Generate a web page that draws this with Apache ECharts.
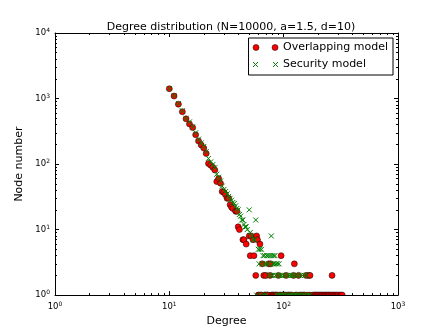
<!DOCTYPE html>
<html>
<head>
<meta charset="utf-8">
<script src="https://cdn.jsdelivr.net/npm/echarts@6/dist/echarts.min.js"></script>
<style>
  html, body { margin: 0; padding: 0; background: #fff; }
  #chart { width: 443px; height: 332px; }
</style>
</head>
<body>
<div id="chart"></div>
<script>
// overlapping model (red dots)
const overlapDeg = [
  10, 11, 12, 13, 14, 15, 16, 17, 18, 19, 20, 21, 22, 23, 24, 25, 26, 27, 28, 29,
  30, 31, 32, 33, 34, 35, 36, 38, 39, 40, 41, 44, 45, 47, 50, 52, 54, 58, 59, 62,
  51, 55, 95,
  65, 74, 77, 124,
  57, 67, 70, 76, 90, 105, 122, 135, 157, 165, 170, 265,
  60, 61, 63, 64, 68, 69, 71, 72, 73, 78, 80, 81, 83, 85, 86, 88, 92, 94, 97, 99,
  101, 103, 107, 110, 112, 115, 118, 127, 130, 138, 142, 146, 150, 153, 160, 168,
  180, 185, 189, 193, 197, 201, 206, 210, 214, 219, 224, 229, 233, 238, 243, 248,
  252, 259, 266, 272, 279, 286, 293, 300, 309, 317, 325
];
const overlapCnt = [
  1410, 1090, 820, 630, 490, 410, 360, 280, 225, 195, 175, 145, 102, 96, 89, 81, 54, 60, 51, 38,
  37, 34, 30, 30, 24, 22, 21, 19, 19, 11, 10, 7, 7, 6, 8, 8, 7, 8, 7, 6,
  4, 4, 4,
  3, 3, 3, 3,
  2, 2, 2, 2, 2, 2, 2, 2, 2, 2, 2, 2,
  1, 1, 1, 1, 1, 1, 1, 1, 1, 1, 1, 1, 1, 1, 1, 1, 1, 1, 1, 1,
  1, 1, 1, 1, 1, 1, 1, 1, 1, 1, 1, 1, 1, 1, 1, 1,
  1, 1, 1, 1, 1, 1, 1, 1, 1, 1, 1, 1, 1, 1, 1, 1,
  1, 1, 1, 1, 1, 1, 1, 1, 1, 1, 1
];

// security model (green crosses)
const securityDeg = [
  10, 11, 12, 13, 14, 15, 16, 17, 18, 19, 20, 21, 22, 23, 24, 25, 26, 27, 28, 29,
  30, 31, 32, 33, 34, 35, 36, 37, 38, 39, 40, 41, 42, 43, 44, 45, 46, 47, 48, 50,
  51, 53, 54, 56, 57, 60, 62, 64, 78,
  66, 68, 71, 73, 76, 79, 82, 84,
  61, 65, 69, 72, 75, 83, 81, 86, 88, 91,
  74, 77, 80, 85, 89, 93, 96, 100, 104, 108, 112, 116, 120, 125, 130, 135, 140, 146, 152, 160,
  58, 63, 67, 70, 87, 90, 92, 95, 98, 102, 106, 110, 114, 118, 123, 128, 133, 138, 144, 149,
  155, 163, 170
];
const securityCnt = [
  1420, 1110, 840, 650, 500, 440, 370, 300, 240, 210, 185, 155, 122, 108, 98, 88, 70, 63, 55, 46,
  41, 38, 35, 32, 30, 28, 26, 25, 23, 21, 20, 17, 16, 14, 14, 12, 11, 11, 10, 20,
  9, 8, 7, 7, 14, 5, 5, 5, 8,
  4, 4, 4, 4, 4, 4, 4, 4,
  3, 3, 3, 3, 3, 3, 3, 3, 3, 3,
  2, 2, 2, 2, 2, 2, 2, 2, 2, 2, 2, 2, 2, 2, 2, 2, 2, 2, 2, 2,
  1, 1, 1, 1, 1, 1, 1, 1, 1, 1, 1, 1, 1, 1, 1, 1, 1, 1, 1, 1,
  1, 1, 1
];

const xMinor = [2, 3, 4, 5, 6, 7, 8, 9, 20, 30, 40, 50, 60, 70, 80, 90, 200, 300, 400, 500, 600, 700, 800, 900];
const yMinor = xMinor.concat([2000, 3000, 4000, 5000, 6000, 7000, 8000, 9000]);

const font = 'DejaVu Sans';
const chart = echarts.init(document.getElementById('chart'));

// 10^n tick labels
const powLabel = {
  formatter: v => '{b|10}{s|' + Math.round(Math.log10(v)) + '}',
  rich: {
    b: { fontSize: 8.5, fontFamily: font, color: '#000', lineHeight: 11 },
    s: { fontSize: 6, fontFamily: font, color: '#000', verticalAlign: 'top', lineHeight: 6 }
  }
};

function logAxis(pos, min, max, major, minor, extra) {
  return Object.assign({
    type: 'log', logBase: 10, min: min, max: max, position: pos,
    axisLine: { show: major, onZero: false, lineStyle: { color: '#000', width: 1 } },
    axisTick: major
      ? { inside: true, length: 4, lineStyle: { color: '#000' } }
      : { inside: true, length: 2, customValues: minor, lineStyle: { color: '#000' } },
    axisLabel: { show: false },
    splitLine: { show: false },
    minorTick: { show: false }
  }, extra || {});
}

// markers drawn through the axes so the grid can clip them (half dots at y=1)
function dotItem(params, api) {
  const p = api.coord([api.value(0), api.value(1)]);
  return {
    type: 'circle',
    shape: { cx: p[0], cy: p[1], r: 3 },
    style: { fill: '#ff0000', stroke: '#000', lineWidth: 0.5 }
  };
}
function crossItem(params, api) {
  const p = api.coord([api.value(0), api.value(1)]);
  const h = 2.5;
  return {
    type: 'path',
    shape: {
      pathData: 'M' + (p[0] - h) + ',' + (p[1] - h) + 'L' + (p[0] + h) + ',' + (p[1] + h) +
        'M' + (p[0] - h) + ',' + (p[1] + h) + 'L' + (p[0] + h) + ',' + (p[1] - h)
    },
    style: { fill: null, stroke: '#008000', lineWidth: 1 }
  };
}

chart.setOption({
  animation: false,
  backgroundColor: '#fff',
  title: {
    text: 'Degree distribution (N=10000, a=1.5, d=10)',
    left: 226, top: 17, textAlign: 'center',
    textStyle: { fontSize: 11, fontWeight: 'normal', fontFamily: font, color: '#000' }
  },
  grid: { left: 55, right: 45, top: 33, bottom: 34 },
  legend: {
    orient: 'vertical', right: 50, top: 38,
    borderColor: '#000', borderWidth: 1, borderRadius: 0,
    padding: [4, 5, 5, 4], itemGap: 6, itemWidth: 25, itemHeight: 6,
    textStyle: { fontSize: 11, fontFamily: font, color: '#000' },
    data: [
      { name: 'Overlapping model',
        icon: 'path://M0,3a3,3 0 1,0 6,0a3,3 0 1,0 -6,0M19,3a3,3 0 1,0 6,0a3,3 0 1,0 -6,0',
        itemStyle: { color: '#ff0000', borderColor: '#000', borderWidth: 0.5 } },
      { name: 'Security model',
        icon: 'path://M0,0L5,5M0,5L5,0M20,0L25,5M20,5L25,0',
        itemStyle: { color: '#008000', borderColor: '#008000', borderWidth: 1 } }
    ]
  },
  xAxis: [
    logAxis('bottom', 1, 1000, true, null, {
      axisLabel: Object.assign({ margin: 6 }, powLabel),
      name: 'Degree', nameLocation: 'middle', nameGap: 15,
      nameTextStyle: { fontSize: 11, fontFamily: font, color: '#000' }
    }),
    logAxis('bottom', 1, 1000, false, xMinor),
    logAxis('top', 1, 1000, true, null),
    logAxis('top', 1, 1000, false, xMinor)
  ],
  yAxis: [
    logAxis('left', 1, 10000, true, null, {
      axisLabel: Object.assign({ margin: 5 }, powLabel),
      name: 'Node number', nameLocation: 'middle', nameGap: 20,
      nameTextStyle: { fontSize: 11, fontFamily: font, color: '#000' }
    }),
    logAxis('left', 1, 10000, false, yMinor),
    logAxis('right', 1, 10000, true, null),
    logAxis('right', 1, 10000, false, yMinor)
  ],
  series: [
    {
      name: 'Overlapping model', type: 'custom', clip: true,
      itemStyle: { color: '#ff0000' },
      encode: { x: 0, y: 1 },
      renderItem: dotItem,
      data: overlapDeg.map((d, i) => [d, overlapCnt[i]])
    },
    {
      name: 'Security model', type: 'custom', clip: true,
      itemStyle: { color: '#008000' },
      encode: { x: 0, y: 1 },
      renderItem: crossItem,
      data: securityDeg.map((d, i) => [d, securityCnt[i]])
    }
  ]
});
</script>
</body>
</html>
